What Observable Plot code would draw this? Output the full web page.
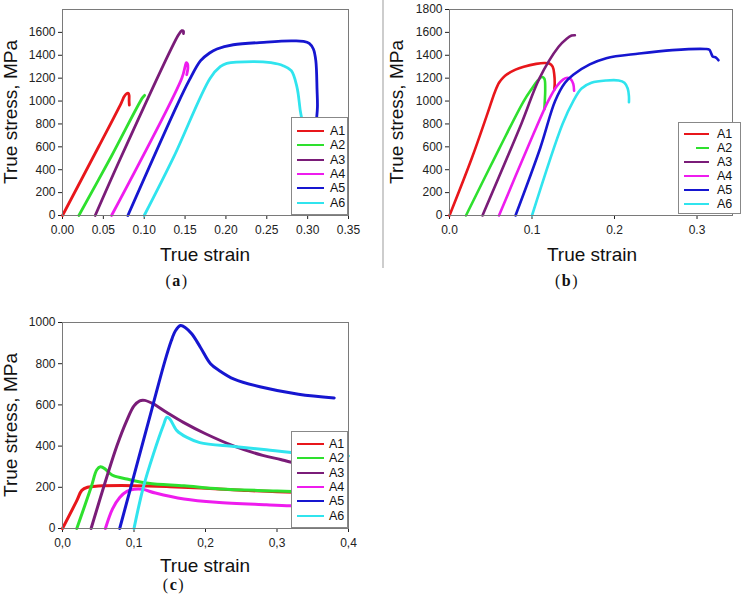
<!DOCTYPE html>
<html><head><meta charset="utf-8">
<script src="https://cdn.jsdelivr.net/npm/d3@7"></script>
<script src="https://cdn.jsdelivr.net/npm/@observablehq/plot@0.6"></script>
<style>
html,body{margin:0;padding:0;background:#fff;}
#root{position:relative;width:741px;height:606px;overflow:hidden;font-family:Arial,"Liberation Sans",sans-serif;}
.holder{position:absolute;}
.ylab{position:absolute;font-size:19px;color:#111;white-space:nowrap;transform:translate(-50%,-50%) rotate(-90deg);}
.xlab{position:absolute;font-size:19px;color:#111;white-space:nowrap;transform:translate(-50%,-50%);}
.cap{position:absolute;font-family:"Liberation Serif","Times New Roman",serif;font-size:16px;color:#111;white-space:nowrap;transform:translate(-50%,-50%);letter-spacing:1.5px;}
.cap b{font-weight:bold;}
.legend{position:absolute;border:1px solid #888;background:#fff;box-sizing:border-box;}
.legend .row{position:absolute;left:0;width:100%;height:0;}
.legend .sw{position:absolute;}
.legend .tx{position:absolute;font-size:12.5px;color:#111;transform:translateY(-50%);line-height:1;}
.sep{position:absolute;left:382px;top:0;width:2px;height:268px;background:#cdcdcd;}
</style>
</head><body><div id="root"></div>
<script>
// ---- series names / colours ----
const seriesNames = ["A1","A2","A3","A4","A5","A6"];
const seriesColors = ["#e8161b","#2ee02e","#7a1c78","#ee1cee","#1616d0","#30e4ee"];

// ---- panel (a): [true strain, true stress MPa] ----
const a_A1 = [[0,0],[0.0445,605],[0.072,985],[0.0755,1040],[0.0785,1065],[0.0805,1068],[0.0815,1050],[0.0815,1000],[0.0818,965]];
const a_A2 = [[0.02,0],[0.06,520],[0.098,1030],[0.1005,1050]];
const a_A3 = [[0.04,0],[0.071,500],[0.136,1500],[0.142,1580],[0.146,1615],[0.148,1612],[0.148,1590]];
const a_A4 = [[0.06,0],[0.146,1200],[0.15,1300],[0.1515,1335],[0.153,1325],[0.1535,1290],[0.152,1230]];
const a_A5 = [[0.08,0],[0.14,960],[0.155,1180],[0.169,1353],[0.18,1420],[0.189,1455],[0.209,1492],[0.25,1515],[0.28,1525],[0.295,1522],[0.302,1505],[0.307,1455],[0.31,1353],[0.3115,1100],[0.312,950],[0.311,850],[0.31,780]];
const a_A6 = [[0.1,0],[0.136,510],[0.1807,1200],[0.193,1300],[0.201,1330],[0.234,1345],[0.255,1335],[0.27,1309],[0.28,1265],[0.287,1120],[0.291,916],[0.293,840]];

// ---- panel (b) ----
const b_A1 = [[0,0],[0.027,500],[0.046,890],[0.055,1080],[0.06,1160],[0.065,1205],[0.07,1235],[0.08,1275],[0.09,1300],[0.105,1325],[0.115,1333],[0.121,1328],[0.125,1300],[0.127,1230],[0.1275,1150],[0.127,1100]];
const b_A2 = [[0.02,0],[0.06,580],[0.09,1000],[0.1,1110],[0.107,1180],[0.112,1210],[0.115,1195],[0.116,1100],[0.1155,1000],[0.115,930]];
const b_A3 = [[0.04,0],[0.087,800],[0.109,1198],[0.132,1472],[0.142,1545],[0.148,1572],[0.152,1575]];
const b_A4 = [[0.06,0],[0.095,598],[0.12,1006],[0.13,1130],[0.138,1190],[0.143,1203],[0.147,1190],[0.15,1150],[0.151,1090]];
const b_A5 = [[0.08,0],[0.11,590],[0.128,1000],[0.14,1160],[0.15,1230],[0.17,1320],[0.19,1375],[0.23,1415],[0.27,1445],[0.31,1455],[0.315,1448],[0.317,1420],[0.319,1390],[0.323,1380],[0.326,1356]];
const b_A6 = [[0.1,0],[0.137,800],[0.15,1000],[0.16,1110],[0.172,1160],[0.19,1180],[0.205,1180],[0.212,1160],[0.216,1110],[0.2175,1040],[0.2175,990]];

// ---- panel (c) ----
const c_A1 = [[0,0],[0.02,135],[0.027,185],[0.035,200],[0.05,206],[0.1,208],[0.15,203],[0.2,195],[0.25,186],[0.3,178],[0.38,170]];
const c_A2 = [[0.02,0],[0.04,200],[0.048,285],[0.053,300],[0.06,288],[0.066,268],[0.072,255],[0.09,240],[0.12,220],[0.17,207],[0.22,192],[0.3,182],[0.38,172]];
const c_A3 = [[0.04,0],[0.076,400],[0.09,525],[0.1,595],[0.108,620],[0.115,622],[0.127,605],[0.146,563],[0.169,515],[0.2,460],[0.24,400],[0.28,355],[0.305,335],[0.32,322],[0.38,290]];
const c_A4 = [[0.06,0],[0.07,95],[0.08,150],[0.09,180],[0.1,190],[0.112,190],[0.13,172],[0.17,143],[0.215,127],[0.285,115],[0.32,110],[0.38,105]];
const c_A5 = [[0.08,0],[0.125,580],[0.143,810],[0.152,910],[0.158,960],[0.165,985],[0.172,975],[0.181,944],[0.193,879],[0.207,800],[0.22,765],[0.24,725],[0.276,688],[0.33,652],[0.38,634]];
const c_A6 = [[0.1,0],[0.113,200],[0.127,360],[0.141,500],[0.146,540],[0.15,532],[0.16,475],[0.174,442],[0.192,417],[0.24,398],[0.285,382],[0.32,369],[0.4,352]];

// ---- ticks ----
const ticksA_x = [0,0.05,0.10,0.15,0.20,0.25,0.30,0.35];
const ticksA_y = [0,200,400,600,800,1000,1200,1400,1600];
const ticksB_x = [0,0.1,0.2,0.3];
const ticksB_y = [0,200,400,600,800,1000,1200,1400,1600,1800];
const ticksC_x = [0,0.1,0.2,0.3,0.4];
const ticksC_y = [0,200,400,600,800,1000];

const yLabel = "True stress, MPa";
const xLabel = "True strain";

function rows(list){
  return list.flatMap((pts,i)=>pts.map(([x,y])=>({x,y,s:seriesNames[i]})));
}

const root = document.getElementById("root");

function panel(o){
  const svg = Plot.plot({
    width:o.width, height:o.height,
    marginLeft:o.ml, marginRight:o.mr, marginTop:o.mt, marginBottom:o.mb,
    x:{domain:o.xd, ticks:o.xt, tickFormat:o.xf, tickSize:4, tickPadding:6, label:null},
    y:{domain:o.yd, ticks:o.yt, tickFormat:d=>String(d), tickSize:4, tickPadding:3, label:null},
    color:{domain:seriesNames, range:seriesColors},
    style:{background:"transparent", fontSize:"12px", fontFamily:"Arial, 'Liberation Sans', sans-serif", color:"#222", overflow:"visible"},
    marks:[
      Plot.line(rows(o.series),{x:"x",y:"y",z:"s",stroke:"s",strokeWidth:o.sw,curve:"catmull-rom",strokeLinejoin:"round",strokeLinecap:"round"}),
      Plot.frame({stroke:"#7a7a7a"})
    ]
  });
  const h = document.createElement("div");
  h.className="holder"; h.style.left=o.left+"px"; h.style.top=o.top+"px";
  h.appendChild(svg); root.appendChild(h);
}

function text(cls, html, x, y){
  const d=document.createElement("div"); d.className=cls; d.innerHTML=html;
  d.style.left=x+"px"; d.style.top=y+"px"; root.appendChild(d);
}

function legend(o){
  const box=document.createElement("div"); box.className="legend";
  Object.assign(box.style,{left:o.left+"px",top:o.top+"px",width:o.w+"px",height:o.h+"px"});
  seriesNames.forEach((n,i)=>{
    const r=document.createElement("div"); r.className="row"; r.style.top=o.ys[i]+"px";
    const sw=document.createElement("div"); sw.className="sw";
    const x0=(o.x0s?o.x0s[i]:o.x0);
    Object.assign(sw.style,{left:x0+"px",width:(o.x1-x0)+"px",top:(-o.lw/2)+"px",height:o.lw+"px",background:seriesColors[i]});
    const t=document.createElement("div"); t.className="tx"; t.textContent=n; t.style.left=o.tx+"px";
    r.appendChild(sw); r.appendChild(t); box.appendChild(r);
  });
  root.appendChild(box);
}

// separator
const sep=document.createElement("div"); sep.className="sep"; root.appendChild(sep);

// (a)
panel({left:0,top:0,width:370,height:270,ml:62,mr:22,mt:9,mb:55,
  xd:[0,0.35],xt:ticksA_x,xf:d=>d.toFixed(2),yd:[0,1800],yt:ticksA_y,sw:2.8,
  series:[a_A1,a_A2,a_A3,a_A4,a_A5,a_A6]});
// (b)
panel({left:383,top:0,width:358,height:270,ml:66,mr:9,mt:9,mb:55,
  xd:[0,0.343],xt:ticksB_x,xf:d=>d.toFixed(1),yd:[0,1800],yt:ticksB_y,sw:2.6,
  series:[b_A1,b_A2,b_A3,b_A4,b_A5,b_A6]});
// (c)
panel({left:0,top:300,width:370,height:290,ml:62,mr:22,mt:22,mb:62,
  xd:[0,0.4],xt:ticksC_x,xf:d=>d.toFixed(1).replace(".",","),yd:[0,1000],yt:ticksC_y,sw:3,
  series:[c_A1,c_A2,c_A3,c_A4,c_A5,c_A6]});

// axis titles
text("ylab",yLabel,11,112);
text("xlab",xLabel,205,255);
text("ylab",yLabel,397,112);
text("xlab",xLabel,592,255);
text("ylab",yLabel,11,425);
text("xlab",xLabel,205,566);
// captions
text("cap","(<b>a</b>)",177,281);
text("cap","(<b>b</b>)",567,281);
text("cap","(<b>c</b>)",174,585);

// legends
legend({left:291,top:117,w:57,h:98,ys:[13,27,42,56,70,85],x0:5,x1:32,tx:38,lw:2});
legend({left:678,top:122,w:63,h:92,ys:[11,25,39,53,67,81],x0:5,x0s:[5,17,5,5,5,5],x1:30,tx:38,lw:2});
legend({left:291,top:431,w:57,h:97,ys:[12,26,41,55,69,84],x0:5,x1:32,tx:37,lw:2.5});
</script>
</body></html>
